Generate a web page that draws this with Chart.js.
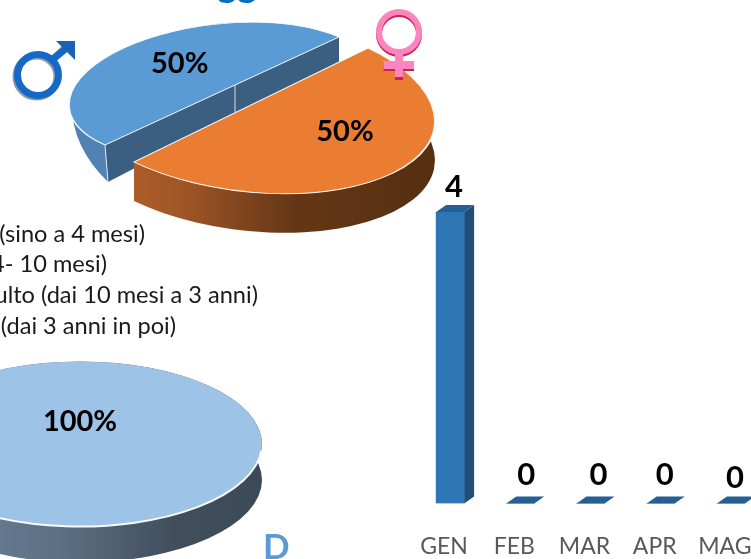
<!DOCTYPE html>
<html><head><meta charset="utf-8">
<script src="https://cdn.jsdelivr.net/npm/chart.js@4"></script>
<style>
html,body{margin:0;padding:0;width:751px;height:559px;overflow:hidden;background:#fff}
canvas{position:absolute;left:0;top:0}
.t{position:absolute;white-space:nowrap;font-family:Lato,sans-serif}
.leg{font-size:23.6px;line-height:24px;color:#1a1a1a}
svg{position:absolute;left:0;top:0}
</style></head><body>
<canvas id="pieSex" width="751" height="559"></canvas>
<canvas id="pieAge" width="751" height="559"></canvas>
<canvas id="bars" width="800" height="581"></canvas>
<div class="t" id="frag" style="left:217px;top:-41px;font-size:38px;font-weight:700;color:#0070c0;line-height:46px">gg</div>
<div class="t" id="dd" style="left:263px;top:524px;font-size:35px;font-weight:700;color:#5b9bd5;line-height:42px">D</div>
<div id="legend"></div>
<svg width="751" height="559">
  <g fill="none">
    <g transform="translate(-1.5,1.5)" stroke="#6f7f92" opacity=".8">
      <circle cx="38" cy="75" r="20.5" stroke-width="7"/>
      <path d="M52 60 L69 44" stroke-width="7"/>
    </g>
    <circle cx="38" cy="75" r="20.5" stroke="#1668c8" stroke-width="7"/>
    <path d="M52 60 L69 46" stroke="#1668c8" stroke-width="7"/>
    <path d="M56 41 L75 41 L75 60 Z" fill="#1a62b8"/>
    <g transform="translate(0,2)" stroke="#cf1f4f">
      <circle cx="399" cy="32" r="20" stroke-width="6"/>
      <path d="M399 52 V78 M383.500 65 H414" stroke-width="8"/>
    </g>
    <circle cx="399" cy="32" r="20" stroke="#fb86bf" stroke-width="6"/>
    <path d="M399 52 V77 M383.500 65 H414" stroke="#fb86bf" stroke-width="8"/>
  </g>
</svg>
<script>
// ---- data ----
const sexLabels = ['Maschi', 'Femmine'];
const sexValues = [50, 50];
const ageLabels = ['Adulto'];
const ageValues = [100];
const months = ['GEN', 'FEB', 'MAR', 'APR', 'MAG'];
const monthValues = [4, 0, 0, 0, 0];
const legendLines = ['(sino a 4 mesi)', '4- 10 mesi)', 'ulto (dai 10 mesi a 3 anni)', '(dai 3 anni in poi)'];

// ---- styles ----
const FONT = 'Lato, sans-serif';
const sexColors = ['#5b9bd5', '#eb7d32'];
const ageColors = ['#9dc3e6'];
const legendRight = [145, 107, 258, 176];
const legendTop = [221, 251, 282, 313];
legendLines.forEach((s, i) => {
  const d = document.createElement('div');
  d.className = 't leg'; d.textContent = s;
  d.style.right = (751 - legendRight[i]) + 'px';
  d.style.top = legendTop[i] + 'px';
  document.getElementById('legend').appendChild(d);
});

// Tilted-view projection of each slice: centre, image of the x and y unit vectors, wall shape and label nudge
const sexViews = [
  {c:[222,91], ax:[-98.6,-42.7], ay:[117,-54], lab:[7,-6], cut:'#3a5f80', cutDepth:[37,25],
   wall:{c:[224,128], ax:[-98,-95], ay:[116,-54], sweep:Math.PI*0.23},
   stops:[[0,'#4f81b2'],[1,'#5c8fc2']]},
  {c:[251,105], ax:[-142,-68], ay:[117,-57], lab:[23,-7],
   wall:{c:[251,144], ax:[-142,-68], ay:[117,-57], sweep:Math.PI},
   stops:[[0,'#b9642a'],[.3,'#a25727'],[.62,'#653616'],[1,'#55300f']]}
];
const ageViews = [
  {c:[80,444], ax:[182,0], ay:[0,82.500], lab:[0,19], rim:true,
   wall:{c:[80,480], ax:[182,0], ay:[0,82.500], sweep:Math.PI*2},
   stops:[[0,'#73899f'],[.45,'#5c6f83'],[.75,'#414f5d'],[1,'#3c4a58']]}
];

function project(ctx, arc, v){
  const R = arc.outerRadius;
  const a = v.ax[0]/R, b = v.ax[1]/R, c = v.ay[0]/R, d = v.ay[1]/R;
  ctx.transform(a, b, c, d, v.c[0]-(a*arc.x+c*arc.y), v.c[1]-(b*arc.x+d*arc.y));
}
function pt(v, ang){
  const cs = Math.cos(ang), sn = Math.sin(ang);
  return [v.c[0]+v.ax[0]*cs+v.ay[0]*sn, v.c[1]+v.ax[1]*cs+v.ay[1]*sn];
}
const pie3d = {
  id:'pie3d',
  beforeDatasetsDraw(chart, args, opts){
    const ctx = chart.ctx, arcs = chart.getDatasetMeta(0).data;
    arcs.forEach((arc, i) => {
      const v = opts.views[i], w = v.wall;
      const ext = Math.hypot(v.ax[0], v.ay[0]);
      const g = ctx.createLinearGradient(v.c[0]-ext, 0, v.c[0]+ext, 0);
      v.stops.forEach(s => g.addColorStop(s[0], s[1]));
      const a0 = arc.startAngle, a1 = a0 + Math.min(w.sweep, arc.circumference);
      // outer wall between the rim and its lower edge
      ctx.beginPath();
      ctx.save(); project(ctx, arc, v);
      ctx.arc(arc.x, arc.y, arc.outerRadius, a0, a1);
      ctx.restore();
      ctx.save(); project(ctx, arc, w);
      ctx.arc(arc.x, arc.y, arc.outerRadius, a1, a0, true);
      ctx.restore();
      ctx.closePath();
      ctx.fillStyle = g; ctx.fill();
      // cut face of the slice that shows it
      if (v.cut) {
        const p0 = pt(v, arc.startAngle), p1 = pt(v, arc.endAngle);
        ctx.beginPath();
        ctx.moveTo(p0[0], p0[1]); ctx.lineTo(v.c[0], v.c[1]); ctx.lineTo(p1[0], p1[1]);
        ctx.lineTo(p1[0], p1[1]+v.cutDepth[1]); ctx.lineTo(p0[0]+3, p0[1]+v.cutDepth[0]);
        ctx.closePath();
        ctx.fillStyle = v.cut; ctx.fill();
        ctx.strokeStyle = 'rgba(255,255,255,.8)'; ctx.lineWidth = 1;
        ctx.beginPath();
        ctx.moveTo(p0[0], p0[1]); ctx.lineTo(p0[0]+3, p0[1]+v.cutDepth[0]);
        ctx.moveTo(v.c[0]+13, v.c[1]-6); ctx.lineTo(v.c[0]+13, v.c[1]+21);
        ctx.stroke();
      }
    });
    arcs.forEach((arc, i) => {
      const v = opts.views[i];
      ctx.save();
      project(ctx, arc, v);
      arc.draw(ctx);
      ctx.restore();
      if (v.rim) {
        ctx.save(); ctx.beginPath();
        project(ctx, arc, v);
        ctx.arc(arc.x, arc.y, arc.outerRadius, 0.08, Math.PI - 0.08);
        ctx.restore();
        ctx.strokeStyle = 'rgba(255,255,255,.95)'; ctx.lineWidth = 2; ctx.stroke();
      }
    });
    const vals = chart.data.datasets[0].data;
    const total = vals.reduce((s, x) => s + x, 0);
    ctx.fillStyle = '#000'; ctx.font = '700 29px ' + FONT;
    ctx.textAlign = 'center'; ctx.textBaseline = 'middle';
    arcs.forEach((arc, i) => {
      const v = opts.views[i], mid = (arc.startAngle + arc.endAngle)/2;
      const p = pt(v, mid);
      const q = [(p[0]+v.c[0])/2 + v.lab[0], (p[1]+v.c[1])/2 + v.lab[1]];
      ctx.fillText(Math.round(vals[i]/total*100) + '%', q[0], q[1]);
    });
    return false;
  }
};
function pie(id, labels, values, colors, views, rotation, bw){
  return new Chart(document.getElementById(id), {
    type:'pie',
    data:{labels, datasets:[{data:values, backgroundColor:colors, borderColor:'rgba(255,255,255,.9)', borderWidth:bw}]},
    options:{responsive:false, animation:false, rotation, plugins:{legend:{display:false}, tooltip:{enabled:false}, pie3d:{views}}},
    plugins:[pie3d]
  });
}
pie('pieSex', sexLabels, sexValues, sexColors, sexViews, 0, 3);
pie('pieAge', ageLabels, ageValues, ageColors, ageViews, 180, 0);

// ---- column chart ----
const BAR_DEPTH = [10, 7];
const valueLabelShift = [4, 6, 8, 4, 4];
const valueLabelLift = [15, 18, 18, 18, 15];
const bar3d = {
  id:'bar3d',
  beforeDatasetsDraw(chart){
    const ctx = chart.ctx, [dx, dy] = BAR_DEPTH;
    chart.getDatasetMeta(0).data.forEach(b => {
      const l = b.x - b.width/2, r = b.x + b.width/2;
      ctx.fillStyle = '#1f4e79';
      ctx.beginPath();
      ctx.moveTo(r, b.y); ctx.lineTo(r+dx, b.y-dy); ctx.lineTo(r+dx, b.base-dy); ctx.lineTo(r, b.base);
      ctx.closePath(); ctx.fill();
      ctx.fillStyle = '#255f94';
      ctx.beginPath();
      ctx.moveTo(l, b.y); ctx.lineTo(l+dx, b.y-dy); ctx.lineTo(r+dx, b.y-dy); ctx.lineTo(r, b.y);
      ctx.closePath(); ctx.fill();
    });
  },
  afterDatasetsDraw(chart){
    const ctx = chart.ctx;
    ctx.fillStyle = '#000'; ctx.font = '700 31px ' + FONT;
    ctx.textAlign = 'center'; ctx.textBaseline = 'alphabetic';
    chart.getDatasetMeta(0).data.forEach((b, i) => {
      ctx.fillText(String(monthValues[i]), b.x + valueLabelShift[i], b.y - valueLabelLift[i]);
    });
  }
};
new Chart(document.getElementById('bars'), {
  type:'bar',
  data:{labels:months, datasets:[{data:monthValues, backgroundColor:'#2e75b6', barThickness:28, borderWidth:0}]},
  options:{
    responsive:false, animation:false,
    layout:{padding:{left:415, right:34, top:212, bottom:0}},
    plugins:{legend:{display:false}, tooltip:{enabled:false}},
    scales:{
      x:{grid:{display:false}, border:{display:false},
         ticks:{color:'#595959', font:{family:FONT, size:23}, padding:21, labelOffset:-6, maxRotation:0, autoSkip:false}},
      y:{display:false, min:0, max:4}
    }
  },
  plugins:[bar3d]
});
</script>
</body></html>
